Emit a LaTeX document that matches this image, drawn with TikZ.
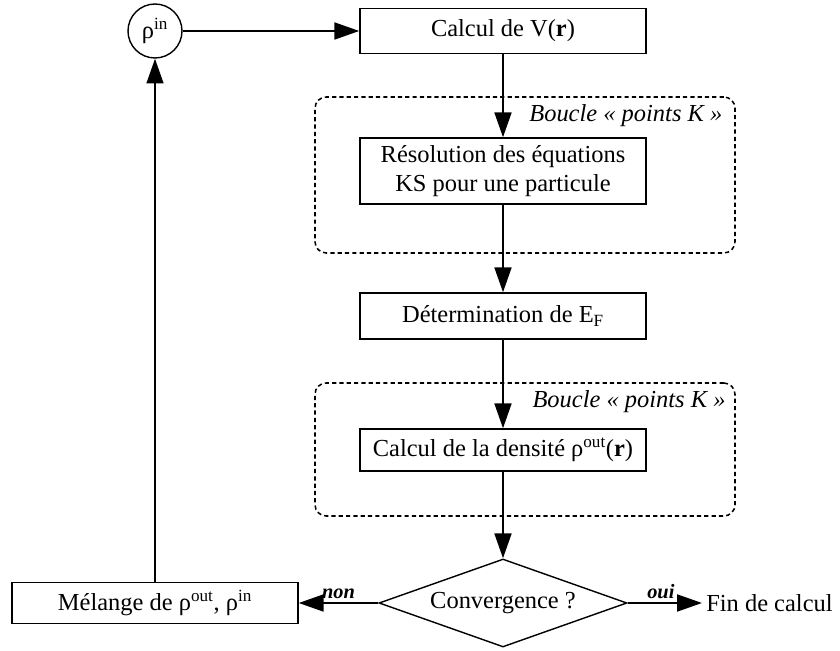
\documentclass[tikz,border=0pt]{standalone}
\usepackage{fontspec}
\setmainfont{Liberation Serif}
\usetikzlibrary{arrows.meta,positioning,shapes.geometric}

\begin{document}
\begin{tikzpicture}[x=1cm,y=1cm,font=\fontsize{17.4}{21}\selectfont,
 box/.style={draw=black,line width=1pt,align=center,minimum width=7.15cm,inner sep=3pt},
 loopbox/.style={draw=black,dashed,dash pattern=on 3pt off 2.2pt,line width=1.1pt,rounded corners=8pt,minimum width=10.5cm},
 loopl/.style={font=\itshape\fontsize{17.4}{21}\selectfont,inner sep=0pt},
 ar/.style={-{Triangle[length=6.2mm,width=4.2mm]},line width=1.6pt},
 lab/.style={font=\bfseries\itshape\fontsize{14.5}{16}\selectfont,inner sep=2pt}]
\useasboundingbox (0,0) rectangle (21,16.275);
% loops over k-points
\node[loopbox,minimum height=3.9cm] (loop1) at (13.125,11.9) {};
\node[loopl,anchor=base east] at ([xshift=-.33cm,yshift=-.62cm]loop1.north east) {Boucle « points K »};
\node[loopbox,minimum height=3.325cm] (loop2) at (13.125,5.0375) {};
\node[loopl,anchor=base east] at ([xshift=-.25cm,yshift=-.62cm]loop2.north east) {Boucle « points K »};
% main column
\node[draw=black,line width=1pt,circle,minimum size=1.35cm,inner sep=0pt] (rin) at (3.875,15.5) {ρ\textsuperscript{in}};
\node[box,minimum height=1.125cm] (calcv) at (12.575,15.5) {Calcul de V(\textbf{r})};
\node[box,minimum height=1.65cm] (resol) at (12.575,12) {Résolution des équations\\KS pour une particule};
\node[box,minimum height=1.15cm] (determ) at (12.575,8.375) {Détermination de E\textsubscript{F}};
\node[box,minimum height=1.05cm] (dens) at (12.575,5.025) {Calcul de la densité ρ\textsuperscript{out}(\textbf{r})};
\node[draw=black,line width=1pt,diamond,aspect=2.8,minimum width=6.2cm,minimum height=2.2cm,inner sep=0pt] (conv) at (12.575,1.2) {Convergence ?};
\node[box,minimum height=1.025cm] (melange) at (3.875,1.2) {Mélange de ρ\textsuperscript{out}, ρ\textsuperscript{in}};
\node[anchor=west,inner sep=0pt] (fin) at (17.65,1.2) {Fin de calcul};
\draw[ar] (rin) -- (calcv);
\draw[ar] (calcv) -- (resol);
\draw[ar] (resol) -- (determ);
\draw[ar] (determ) -- (dens);
\draw[ar] (dens) -- (conv);
\draw[ar] (conv) -- node[lab,above] {non} (melange);
\draw[ar] (conv) -- node[lab,above,xshift=-1mm] {oui} ([xshift=-1mm]fin.west);
\draw[ar] (melange) -- (rin);
\end{tikzpicture}
\end{document}
